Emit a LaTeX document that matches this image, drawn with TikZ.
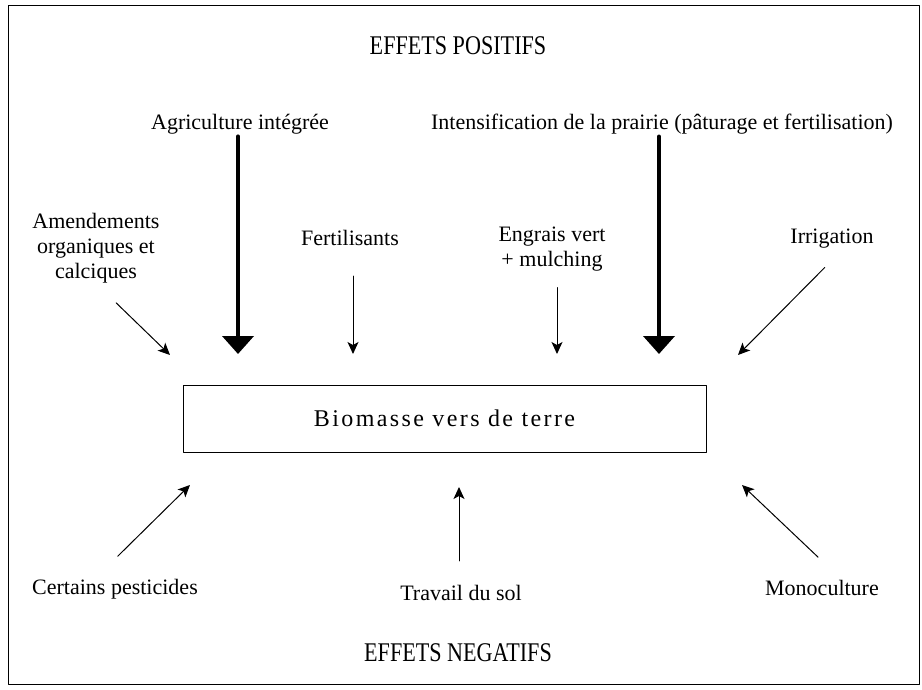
\documentclass[tikz,border=0pt]{standalone}
\usepackage{fontspec}
\setmainfont{Liberation Serif}
\usetikzlibrary{arrows.meta}

\begin{document}
\begin{tikzpicture}[x=0.5pt, y=-0.5pt, line cap=round, line join=round,
  lbl/.style={font=\fontsize{11}{12.5}\selectfont, align=center, inner sep=0pt},
  header/.style={font=\fontsize{13.5}{15}\selectfont\addfontfeature{FakeStretch=0.82}, inner sep=0pt},
  bigarrow/.style={line width=2pt, -{Triangle[width=15.5pt, length=9pt]}},
  smallarrow/.style={line width=0.5pt, -{Stealth[width=5.5pt, length=6pt, inset=1.5pt]}}]
  \useasboundingbox (0,0) rectangle (922,690);
  \draw[line width=0.5pt] (8,6) rectangle (919,684);

  % titres
  \node[header] (pos) at (458,46) {EFFETS POSITIFS};
  \node[header] (neg) at (458,653) {EFFETS NEGATIFS};

  % effets positifs
  \node[lbl] (agri) at (240,124) {Agriculture intégrée};
  \node[lbl] (intens) at (662,124) {Intensification de la prairie (pâturage et fertilisation)};
  \node[lbl] (amend) at (96,248) {Amendements\\organiques et\\calciques};
  \node[lbl] (fert) at (350,238) {Fertilisants};
  \node[lbl] (engrais) at (552,249) {Engrais vert\\+ mulching};
  \node[lbl] (irrig) at (832,239) {Irrigation};

  % biomasse
  \node[draw, line width=0.5pt, minimum width=261.5pt, minimum height=33.5pt, inner sep=0pt,
        font=\fontsize{12}{14}\selectfont\addfontfeature{LetterSpace=10}] (box) at (444.5,418.5) {Biomasse vers de terre};

  % effets negatifs
  \node[lbl] (cert) at (115,589) {Certains pesticides};
  \node[lbl] (trav) at (461,593) {Travail du sol};
  \node[lbl] (mono) at (822,588) {Monoculture};

  \coordinate (agri tip) at (238,354);
  \coordinate (intens tip) at (659,354);
  \coordinate (amend tip) at (170,355);
  \coordinate (fert tip) at (353,354);
  \coordinate (engrais tip) at (557,354);
  \coordinate (irrig tip) at (738,355);
  \coordinate (cert tip) at (190,485);
  \coordinate (trav tip) at (459,487);
  \coordinate (mono tip) at (742,485);

  \draw[bigarrow, shorten <=1pt] (agri tip |- agri.south) -- (agri tip);
  \draw[bigarrow, shorten <=1pt] (intens tip |- intens.south) -- (intens tip);
  \draw[smallarrow, shorten <=14pt] (amend.south) -- (amend tip);
  \draw[smallarrow, shorten <=15pt] (fert tip |- fert.south) -- (fert tip);
  \draw[smallarrow, shorten <=8pt] (engrais tip |- engrais.south) -- (engrais tip);
  \draw[smallarrow, shorten <=13pt] ([xshift=5.5pt]irrig.south) -- (irrig tip);
  \draw[smallarrow, shorten <=16pt] ([xshift=-10pt]cert.north) -- (cert tip);
  \draw[smallarrow, shorten <=12pt] (trav tip |- trav.north) -- (trav tip);
  \draw[smallarrow, shorten <=16.5pt] ([xshift=10pt]mono.north) -- (mono tip);
\end{tikzpicture}
\end{document}
